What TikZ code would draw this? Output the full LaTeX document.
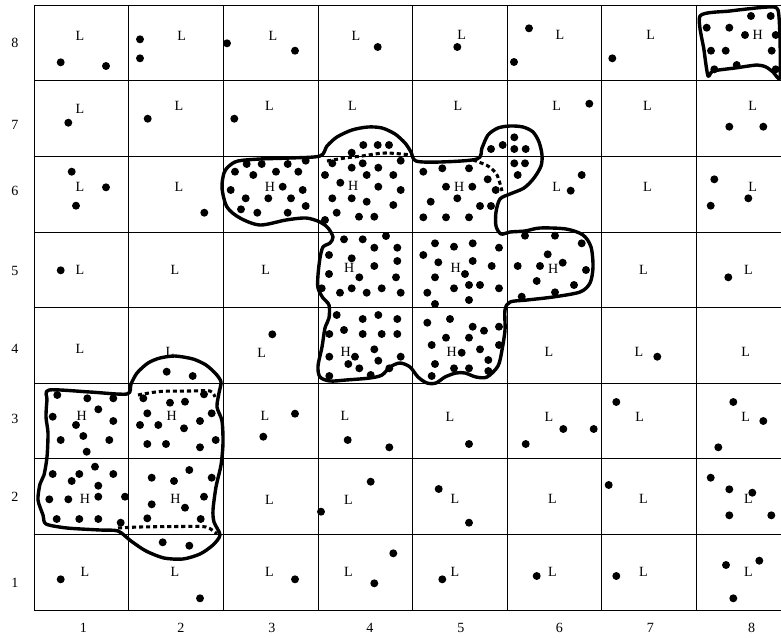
\documentclass[tikz,border=0pt]{standalone}
\usepackage{fontspec}
\setmainfont{Liberation Serif}
\usepackage{tikz}

\begin{document}
\begin{tikzpicture}[
    x=0.03cm, y=-0.03cm,
    font=\fontsize{12}{14}\selectfont,
    gridline/.style={draw,line width=0.7pt},
    axislabel/.style={inner sep=0pt},
    lowlabel/.style={inner sep=0pt},
    highlabel/.style={inner sep=0pt},
    sample/.style={fill=black},
    blob/.style={draw,line width=2.9pt,line join=round,line cap=round},
    seam/.style={draw,line width=2.6pt,dash pattern=on 3.5pt off 2.5pt}
]
\useasboundingbox (0,0) rectangle (781,637);
\clip (0,0) rectangle (781,637);

\foreach \i in {0,...,8}
    \draw[gridline] ({34.3+94.57*\i},5.3) -- ({34.3+94.57*\i},610.1);
\foreach \j in {0,...,8}
    \draw[gridline] (34.3,{5.3+75.6*\j}) -- (792,{5.3+75.6*\j});

\foreach \r/\y in {8/43,7/125,6/190.7,5/270.7,4/349.3,3/419.3,2/496.7,1/583.3}
    \node[axislabel] (row\r) at (15,\y) {\r};
\foreach \c/\x in {1/83.3,2/181,3/272,4/370,5/461,6/559.3,7/650.3,8/751.7}
    \node[axislabel] (col\c) at (\x,628) {\c};

\foreach \x/\y [count=\k] in {80/35.7,181.7/35.7,273/35.7,356/35.7,461.7/35,560/35,650.7/35,
    80/109.3,179/106,269.3/106,352.3/106,458/106,556.7/106,647.3/106,752.7/106,
    80/186.7,179/186.7,556.7/186.7,647.3/186.7,752.7/186.7,
    80/270,175/270,265.7/270,643.3/270,748.3/270,
    80/349.3,170/351.7,261.7/353.3,549/352.3,639/352.3,745.7/352.3,
    265/416,345/416,450/416.7,549/416.7,639.7/416.7,745.7/416.7,
    269.3/500,348.3/500,455/499,552.3/499,643.3/499,748.3/499,
    85/571.7,175/571.7,269.3/571.7,348.3/571.7,455/571.7,552.3/571.7,643.3/571.7,748.3/571.7}
    \node[lowlabel] (low\k) at (\x,\y) {L};

\foreach \x/\y [count=\k] in {757.7/35,270/186.7,353.3/186,459.3/186.7,349.3/268.3,455.7/268.3,
    553.3/269.3,345.7/351.7,451.7/351.7,81.7/416,171.7/415.7,85/499,175.5/499}
    \node[highlabel] (high\k) at (\x,\y) {H};

\foreach \x/\y in {60.7/62.3,106/66,140/39.3,140/58.3,227/43.3,295/50.7,377.7/47,457.3/47,
    529/28.3,514/62,612.3/58.3,
    68.3/122.7,147.7/118.7,234.3/118.7,589.3/103.7,729.3/126.7,763.3/126.7,
    71.7/171.7,106/187.3,76/205.7,204.3/212.7,570.7/190.7,581.7/175,714.3/179.3,748.3/198.3,710.7/205.7,
    60.7/270.3,728.3/277.3,272.3/334.3,657.3/356.7,
    295/413.7,263.3/436.7,347.7/440,389.3/447.3,469/444,525.7/444,563.3/429,593.7/429,
    616.3/402,733.3/402,763.3/421,718.3/447.3,
    370.7/481.7,321/511.7,438.7/489,469/522.7,608.7/485,710.7/477.7,729.3/489.3,752.3/492.7,
    729.3/515.3,771.3/515.3,
    60.7/579.3,200/598.3,295/579.3,374.3/583.3,393.3/553.3,442.3/579.3,536.7/576,616.3/576,
    726/565,759.3/560.7,733.3/598.3}
    \fill[sample] (\x,\y) circle[radius=3.4pt];

\foreach \x/\y in {706.7/27.7,729.3/27.7,751/16,770.7/16,745/35,775.7/35,711/50.7,725.7/50.7,
    771.7/50.7,714.3/69.3,736.7/65,775.7/69.3}
    \fill[sample] (\x,\y) circle[radius=3.4pt];

\foreach \x/\y in {235/171.7,246.7/164,261.7/164,287.7/164,305.7/160.7,253.3/175,276/171.7,
    298.3/171.7,230.7/190,282.7/186.7,302.7/190,245.7/198.3,268.3/198.3,291/198.3,241/209.3,
    257.3/212.7,287.7/212.7,305.7/206,
    351.7/152.7,363.3/145,377.7/145,389/145,332.3/163.3,351.7/167.7,362.7/163.3,378.3/167.7,
    400.7/160.7,325/175,366.7/175,393.3/175,340.3/182.7,378.3/186.7,400.7/190,332.3/198.3,
    351.7/198.3,366.7/201.7,393.3/205,336.7/212.7,359/216.7,374.3/216.7,325/220,
    423.3/171.7,442.3/168.3,469/168.3,487.7/179.3,446/186.7,472.3/186.7,495.7/190,430.7/201.7,
    457.3/198.3,480/206,491/206,423.3/217.3,446/217.3,469/217.3,
    491/149,502.7/145,514.3/137.3,514.3/149,525.7/149,514.3/163.3,525/163.3,517.7/175,
    344/239.3,362.7/239.3,386/236,374.3/247.7,397.3/247.7,329/255,351.7/258.3,397.3/261,
    374.3/266,329/274,359.3/277.3,396/277.3,321.7/288.3,340/292.7,351.7/288.3,366.7/292.7,
    381.7/288.3,400.7/292.7,
    435/243.3,454/246.7,472.7/243.3,499/247.7,423.3/255,438.3/262.3,472.7/261,491.7/266,
    435/277.3,465/274,469/285,480/285,454/288.3,499/288.3,427.3/292.7,435/304,469/300,
    525/235.7,555/235.7,581.7/243.3,547.7/254.3,517.7/266,540/266,562.7/262.7,586/270,
    536.7/281,574/285,555/292.3,521.7/296.7,
    336.7/315,362.7/319,378.3/315,397.3/319,329.3/334,344/330,362.7/334,381.7/334,397.3/334,
    329.3/356.7,355/356.7,374.3/349.3,348.3/364,359.3/368.3,378.3/360.7,400.7/356.7,
    389.3/368.3,329.3/376,370.7/375,
    427.3/322.7,450/319,472.7/326.7,484/330.7,499/326.7,446/337.7,469/337.7,431.7/345,499/345,
    461.7/352.7,480/349.3,488.3/360,435/364,454/368.3,469/368.3,488.3/371,431.7/376}
    \fill[sample] (\x,\y) circle[radius=3.4pt];

\foreach \x/\y in {57.3/395,87.3/398.3,113.3/398.3,98.3/409.3,52.7/416.7,76/425,113.3/421,
    83.3/436,60.7/440,109.3/440,86.7/451.7,
    143.3/398.3,170/402.7,185/401.7,204/394.3,147.3/413.3,200/421,211.7/413.3,140/425,
    158.3/425,184/428.3,147.3/444,166/444,200/447.3,215.7/440,
    166.7/371.7,192.7/376,
    52.7/474,79.3/474,71.7/481,95/466.7,113.3/474,98.3/485.7,49.3/499.3,68.3/499.3,98.3/496.7,
    125/496.7,56.7/519,79.3/519,98.3/519,120.7/522.7,
    151.7/477.7,174/481,189.3/470,211.7/477.7,151.7/504.3,185/507.7,204/496.7,147.3/518.3,
    200.7/519,162.7/542.3,189.3/545.7}
    \fill[sample] (\x,\y) circle[radius=3.4pt];

\draw[blob] plot[smooth cycle,tension=0.5] coordinates {
    (238,161) (260,159) (290,158) (320,156) (327,146) (337,137) (352,130) (368,127)
    (382,128) (395,134) (405,143) (411,152) (416,161) (440,162) (477,159) (482,148)
    (488,135) (498,128) (510,126) (523,127) (533,132) (539,142) (542,155) (541,166)
    (534,178) (524,188) (510,194) (500,199) (496,212) (496,226) (501,234) (510,232)
    (525,231) (540,228) (566,229) (583,235) (591,247) (593,267) (590,283) (580,292)
    (553,297) (527,300) (510,302) (505,310) (505,330) (502,350) (498,366) (487,377)
    (476,377) (465,373) (456,373) (445,377) (436,383) (427,383) (418,377) (410,367)
    (400,363) (390,367) (382,375) (370,378) (346,380) (330,381) (320,377) (318,366)
    (322,347) (325,328) (329,318) (329,305) (323,298) (318,288) (318,275) (320,258)
    (323,247) (330,243) (333,237) (328,228) (320,222) (306,218) (286,220) (260,225)
    (240,218) (227,207) (222,188) (224,173) (229,166)};

\draw[blob] plot[smooth cycle,tension=0.45] coordinates {
    (49,390) (90,392) (127,394) (131,384) (137,373) (148,363) (160,358) (175,356)
    (193,359) (206,365) (216,374) (221,382) (219,393) (217,407) (222,421) (223,443)
    (221,465) (216,487) (213,510) (214,522) (220,535) (213,545) (200,554) (183,559)
    (164,558) (146,551) (131,541) (118,531) (100,530) (67,528) (46,524) (43,515)
    (38,500) (40,484) (44,475) (47,457) (48,433) (46,417) (47,400)};

\draw[blob] plot[smooth cycle,tension=0.4] coordinates {
    (700,16) (730,11) (768,7) (778,10) (780,40) (780,78) (773,72) (766,67) (757,65)
    (735,68) (713,71) (708,76) (704,50)};

\draw[seam] plot[smooth] coordinates {(327,161) (345,158) (362,156) (385,153) (412,155)};
\draw[seam] plot[smooth] coordinates {(473,160) (488,166) (497,175) (502,191)};
\draw[seam] plot[smooth] coordinates {(138,395) (160,391.5) (190,391) (210,391) (215,397)};
\draw[seam] plot[smooth] coordinates {(118,528) (140,527) (180,526.5) (206,527) (217,534)};
\end{tikzpicture}
\end{document}
